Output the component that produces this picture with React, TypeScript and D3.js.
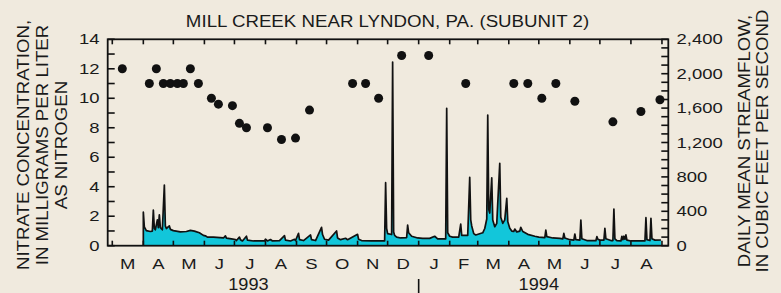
import React from "react";
import * as d3 from "d3";

const W = 781;
const H = 293;

const title = "MILL CREEK NEAR LYNDON, PA. (SUBUNIT 2)";
const leftTitle = ["NITRATE CONCENTRATION,", "IN MILLIGRAMS PER LITER", "AS NITROGEN"];
const rightTitle = ["DAILY MEAN STREAMFLOW,", "IN CUBIC FEET PER SECOND"];
const monthLabels = ["M", "A", "M", "J", "J", "A", "S", "O", "N", "D", "J", "F", "M", "A", "M", "J", "J", "A"];
const yearLabels = ["1993", "1994"];
const leftTickValues = [0, 2, 4, 6, 8, 10, 12, 14];
const rightTickValues = [0, 400, 800, 1200, 1600, 2000, 2400];

// Nitrate samples (mg/L as N)
const nitrateDates = [
  "1993-03-11", "1993-04-07", "1993-04-14", "1993-04-21", "1993-04-28", "1993-05-05", "1993-05-11",
  "1993-05-18", "1993-05-26", "1993-06-08", "1993-06-15", "1993-06-29", "1993-07-06", "1993-07-13",
  "1993-08-03", "1993-08-17", "1993-08-31", "1993-09-14", "1993-10-27", "1993-11-09", "1993-11-22",
  "1993-12-15", "1994-01-11", "1994-02-17", "1994-04-06", "1994-04-20", "1994-05-04", "1994-05-18",
  "1994-06-06", "1994-07-14", "1994-08-11", "1994-08-30",
];
const nitrateValues = [
  12.0, 11.0, 12.0, 11.0, 11.0, 11.0, 11.0,
  12.0, 11.0, 10.0, 9.6, 9.5, 8.3, 8.0,
  8.0, 7.2, 7.3, 9.2, 11.0, 11.0, 10.0,
  12.9, 12.9, 11.0, 11.0, 11.0, 10.0, 11.0,
  9.8, 8.4, 9.1, 9.9,
];

// Daily mean streamflow (cfs), read at turning points of the hydrograph
const flow1993: [string, number][] = [
  ["1993-04-01", 0], ["1993-04-01", 390], ["1993-04-02", 220], ["1993-04-04", 175], ["1993-04-08", 165],
  ["1993-04-10", 170], ["1993-04-11", 415], ["1993-04-12", 200], ["1993-04-13", 185], ["1993-04-15", 300],
  ["1993-04-16", 210], ["1993-04-17", 360], ["1993-04-18", 210], ["1993-04-20", 185], ["1993-04-22", 705],
  ["1993-04-23", 230], ["1993-04-24", 200], ["1993-04-27", 230], ["1993-04-28", 190], ["1993-05-01", 175],
  ["1993-05-08", 160], ["1993-05-14", 165], ["1993-05-18", 178], ["1993-05-22", 170], ["1993-05-27", 150],
  ["1993-05-31", 120], ["1993-06-02", 115], ["1993-06-04", 100], ["1993-06-10", 100], ["1993-06-20", 90],
  ["1993-06-22", 115], ["1993-06-23", 88], ["1993-06-28", 80], ["1993-07-02", 72], ["1993-07-03", 60],
  ["1993-07-06", 100], ["1993-07-07", 70], ["1993-07-09", 55], ["1993-07-13", 110], ["1993-07-14", 65],
  ["1993-07-20", 55], ["1993-07-31", 55], ["1993-08-01", 75], ["1993-08-03", 55], ["1993-08-06", 72],
  ["1993-08-08", 55], ["1993-08-15", 58], ["1993-08-20", 116], ["1993-08-21", 65], ["1993-08-26", 55],
  ["1993-08-30", 75], ["1993-08-31", 60], ["1993-09-03", 144], ["1993-09-04", 70], ["1993-09-08", 60],
  ["1993-09-15", 125], ["1993-09-16", 70], ["1993-09-20", 60], ["1993-09-26", 214], ["1993-09-27", 130],
  ["1993-09-29", 75], ["1993-10-03", 65], ["1993-10-11", 171], ["1993-10-12", 90], ["1993-10-15", 70],
  ["1993-10-20", 86], ["1993-10-22", 70], ["1993-11-01", 132], ["1993-11-02", 75], ["1993-11-05", 60],
  ["1993-11-15", 55], ["1993-11-28", 55], ["1993-11-29", 733], ["1993-11-30", 200], ["1993-12-01", 140],
  ["1993-12-05", 130], ["1993-12-06", 2135], ["1993-12-07", 160], ["1993-12-08", 120], ["1993-12-10", 100],
  ["1993-12-14", 90], ["1993-12-20", 95], ["1993-12-21", 240], ["1993-12-22", 150], ["1993-12-25", 110],
  ["1993-12-31", 90],
];
const flow1994: [string, number][] = [
  ["1994-01-05", 85], ["1994-01-12", 85], ["1994-01-17", 110], ["1994-01-20", 80], ["1994-01-28", 80],
  ["1994-01-29", 1598], ["1994-01-30", 150], ["1994-02-01", 110], ["1994-02-04", 100], ["1994-02-10", 100],
  ["1994-02-12", 252], ["1994-02-13", 120], ["1994-02-19", 120], ["1994-02-21", 795], ["1994-02-22", 300],
  ["1994-02-23", 230], ["1994-02-25", 140], ["1994-02-27", 125], ["1994-03-06", 150], ["1994-03-08", 200],
  ["1994-03-10", 310], ["1994-03-11", 1520], ["1994-03-12", 420], ["1994-03-13", 380], ["1994-03-15", 790],
  ["1994-03-16", 300], ["1994-03-18", 221], ["1994-03-20", 260], ["1994-03-23", 958], ["1994-03-24", 330],
  ["1994-03-26", 260], ["1994-03-28", 300], ["1994-03-30", 551], ["1994-03-31", 280], ["1994-04-02", 202],
  ["1994-04-04", 170], ["1994-04-06", 165], ["1994-04-07", 194], ["1994-04-09", 160], ["1994-04-12", 170],
  ["1994-04-13", 214], ["1994-04-15", 165], ["1994-04-20", 132], ["1994-04-27", 110], ["1994-05-01", 100],
  ["1994-05-07", 95], ["1994-05-08", 182], ["1994-05-09", 105], ["1994-05-15", 90], ["1994-05-22", 85],
  ["1994-05-25", 80], ["1994-05-26", 144], ["1994-05-27", 90], ["1994-06-01", 70], ["1994-06-05", 65],
  ["1994-06-06", 136], ["1994-06-07", 70], ["1994-06-11", 65], ["1994-06-12", 299], ["1994-06-13", 80],
  ["1994-06-18", 60], ["1994-06-27", 58], ["1994-06-28", 105], ["1994-06-29", 75], ["1994-07-01", 65],
  ["1994-07-05", 65], ["1994-07-06", 202], ["1994-07-07", 80], ["1994-07-12", 60], ["1994-07-14", 60],
  ["1994-07-15", 427], ["1994-07-16", 80], ["1994-07-18", 58], ["1994-07-22", 55], ["1994-07-23", 110],
  ["1994-07-24", 70], ["1994-07-25", 110], ["1994-07-26", 75], ["1994-07-27", 125], ["1994-07-28", 65],
  ["1994-08-01", 55], ["1994-08-10", 55], ["1994-08-15", 55], ["1994-08-16", 326], ["1994-08-17", 70],
  ["1994-08-20", 60], ["1994-08-21", 318], ["1994-08-22", 80], ["1994-08-25", 65], ["1994-08-31", 66],
];

const FONT = "'Liberation Sans', Arial, Helvetica, sans-serif";
const BG = "#f0eade";
const FILL = "#12c6da";

const L = 107.7, R = 668.3, T = 39.3, B = 245.7;

type TxtProps = { x: number; y: number; rot?: number; sx?: number; size: number; anchor?: string; children: React.ReactNode };
function Txt({ x, y, rot = 0, sx = 1, size, anchor = "start", children }: TxtProps) {
  return (
    <g transform={`translate(${x},${y}) rotate(${rot}) scale(${sx},1)`}>
      <text x={0} y={0} fontSize={size} textAnchor={anchor} fill="#1a1a1a" fontFamily={FONT}>
        {children}
      </text>
    </g>
  );
}

export default function App() {
  const parse = d3.timeParse("%Y-%m-%d")!;
  const x = d3.scaleTime()
    .domain([new Date(1993, 1, 24, 10), new Date(1994, 8, 7, 8)])
    .range([L, R]);
  const yN = d3.scaleLinear().domain([0, 14]).range([B, T]);
  const yQ = d3.scaleLinear().domain([0, 2400]).range([B, T]);

  const flow = [...flow1993, ...flow1994].map(([d, v]) => ({ date: parse(d)!, v }));
  const area = d3.area<{ date: Date; v: number }>()
    .x((d) => x(d.date))
    .y0(yQ(0))
    .y1((d) => yQ(d.v));
  const line = d3.line<{ date: Date; v: number }>()
    .x((d) => x(d.date))
    .y((d) => yQ(d.v));

  const monthStarts = d3.timeMonth.range(new Date(1993, 2, 1), new Date(1994, 8, 2));
  const monthMids = monthStarts.slice(0, monthLabels.length).map((m) => {
    const next = d3.timeMonth.offset(m, 1);
    return new Date((m.getTime() + next.getTime()) / 2);
  });
  const leftMinor = d3.range(0, 15, 1);
  const rightMinor = d3.range(0, 2401, 100);
  const yearCenters = [new Date(1993, 6, 15), new Date(1994, 4, 1)];
  const yearSep = new Date(1994, 0, 1);
  const fmt = d3.format(",");

  return (
    <svg width={W} height={H} style={{ position: "absolute", left: 0, top: 0 }}>
      <rect x={0} y={0} width={W} height={H} fill={BG} />

      <Txt x={387.5} y={27} size={17} sx={1.1} anchor="middle">{title}</Txt>

      {leftTitle.map((t, i) => (
        <Txt key={t} x={29 + i * 19} y={145} rot={-90} size={16.3} sx={1.145} anchor="middle">{t}</Txt>
      ))}
      {rightTitle.map((t, i) => (
        <Txt key={t} x={750 + i * 18} y={141} rot={-90} size={16.3} sx={1.145} anchor="middle">{t}</Txt>
      ))}

      {/* streamflow */}
      <path d={area(flow) ?? ""} fill={FILL} stroke="none" />
      <path d={line(flow) ?? ""} fill="none" stroke="#111" strokeWidth={1.7} strokeLinejoin="round" />

      {/* frame */}
      <rect x={L} y={T} width={R - L} height={B - T} fill="none" stroke="#111" strokeWidth={1.8} />

      {/* ticks */}
      {leftMinor.map((v) => (
        <line key={"l" + v} x1={L} x2={L + 7} y1={yN(v)} y2={yN(v)} stroke="#111" strokeWidth={1.6} />
      ))}
      {rightMinor.map((v) => (
        <line key={"r" + v} x1={R} x2={R - 7} y1={yQ(v)} y2={yQ(v)} stroke="#111" strokeWidth={1.6} />
      ))}
      {monthStarts.map((m, i) => (
        <g key={"m" + i}>
          <line x1={x(m)} x2={x(m)} y1={T} y2={T + 5} stroke="#111" strokeWidth={1.6} />
          <line x1={x(m)} x2={x(m)} y1={B} y2={B - 5} stroke="#111" strokeWidth={1.6} />
        </g>
      ))}

      {/* nitrate dots */}
      {nitrateDates.map((d, i) => (
        <circle key={"n" + i} cx={x(parse(d)!)} cy={yN(nitrateValues[i])} r={4.5} fill="#111" />
      ))}

      {/* tick labels */}
      {leftTickValues.map((v) => (
        <Txt key={"lt" + v} x={99.5} y={yN(v) + 5} size={15.4} sx={1.2} anchor="end">{String(v)}</Txt>
      ))}
      {rightTickValues.map((v) => (
        <Txt key={"rt" + v} x={676.5} y={yQ(v) + 5} size={15.4} sx={1.2} anchor="start">{fmt(v)}</Txt>
      ))}
      {monthLabels.map((m, i) => (
        <Txt key={"ml" + i} x={x(monthMids[i])} y={269} size={15.4} sx={1.2} anchor="middle">{m}</Txt>
      ))}
      {yearLabels.map((yl, i) => (
        <Txt key={yl} x={x(yearCenters[i])} y={289.5} size={15.8} sx={1.15} anchor="middle">{yl}</Txt>
      ))}
      <line x1={x(yearSep)} x2={x(yearSep)} y1={279} y2={293} stroke="#111" strokeWidth={1.6} />
    </svg>
  );
}
